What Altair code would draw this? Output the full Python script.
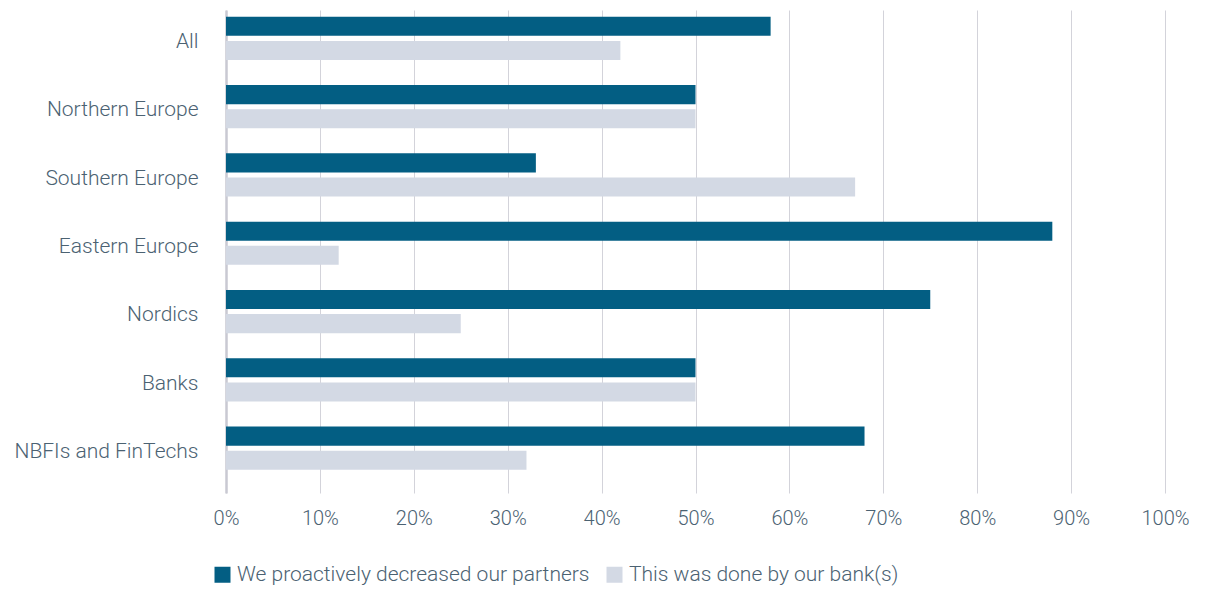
import altair as alt
import pandas as pd

categories = ["All", "Northern Europe", "Southern Europe", "Eastern Europe",
              "Nordics", "Banks", "NBFIs and FinTechs"]
series = ["We proactively decreased our partners", "This was done by our bank(s)"]
proactive = [58, 50, 33, 88, 75, 50, 68]
by_bank = [42, 50, 67, 12, 25, 50, 32]

rows = []
for i, c in enumerate(categories):
    rows.append({"category": c, "series": series[0], "value": proactive[i] / 100})
    rows.append({"category": c, "series": series[1], "value": by_bank[i] / 100})
df = pd.DataFrame(rows)

TEXT = "#4b6272"
FONT = "Roboto"
FS = 20

chart = alt.Chart(df).mark_bar().encode(
    y=alt.Y("category:N", sort=categories, title=None,
            scale=alt.Scale(paddingInner=0, paddingOuter=0.036, align=0),
            axis=alt.Axis(ticks=False, labelFontSize=21, labelColor=TEXT, labelFont=FONT,
                          labelPadding=28, domainColor="#c9c9d2", domainWidth=2.5,
                          labelFontWeight=300, labelLimit=0, labelOffset=-2)),
    yOffset=alt.YOffset("series:N", sort=series,
                        scale=alt.Scale(paddingInner=0.21, paddingOuter=0.52, align=0.27)),
    x=alt.X("value:Q", title=None,
            scale=alt.Scale(domain=[0, 1], nice=False),
            axis=alt.Axis(format=".0%", values=[i / 10 for i in range(11)], ticks=False,
                          domain=False, gridColor="#d3d3da", labelFontSize=FS,
                          labelColor=TEXT, labelFont=FONT, labelPadding=15,
                          labelFontWeight=300, labelFlush=False)),
    color=alt.Color("series:N", sort=series,
                    scale=alt.Scale(domain=series, range=["#035e83", "#d3d9e4"]),
                    legend=alt.Legend(title=None, orient="none", legendX=-14, legendY=554,
                                      direction="horizontal", symbolType="square",
                                      symbolSize=256, symbolStrokeWidth=0,
                                      labelFontSize=21, labelColor=TEXT, labelFont=FONT,
                                      labelFontWeight=300, labelOffset=4, columnPadding=14,
                                      labelLimit=0, padding=0)),
).properties(
    width=939, height=483,
    padding={"left": 218, "top": 2, "right": 30, "bottom": 96},
    autosize=alt.AutoSizeParams(type="none"),
).configure_view(stroke=None)

chart.save("out.html", embed_options={"renderer": "svg", "actions": False})
